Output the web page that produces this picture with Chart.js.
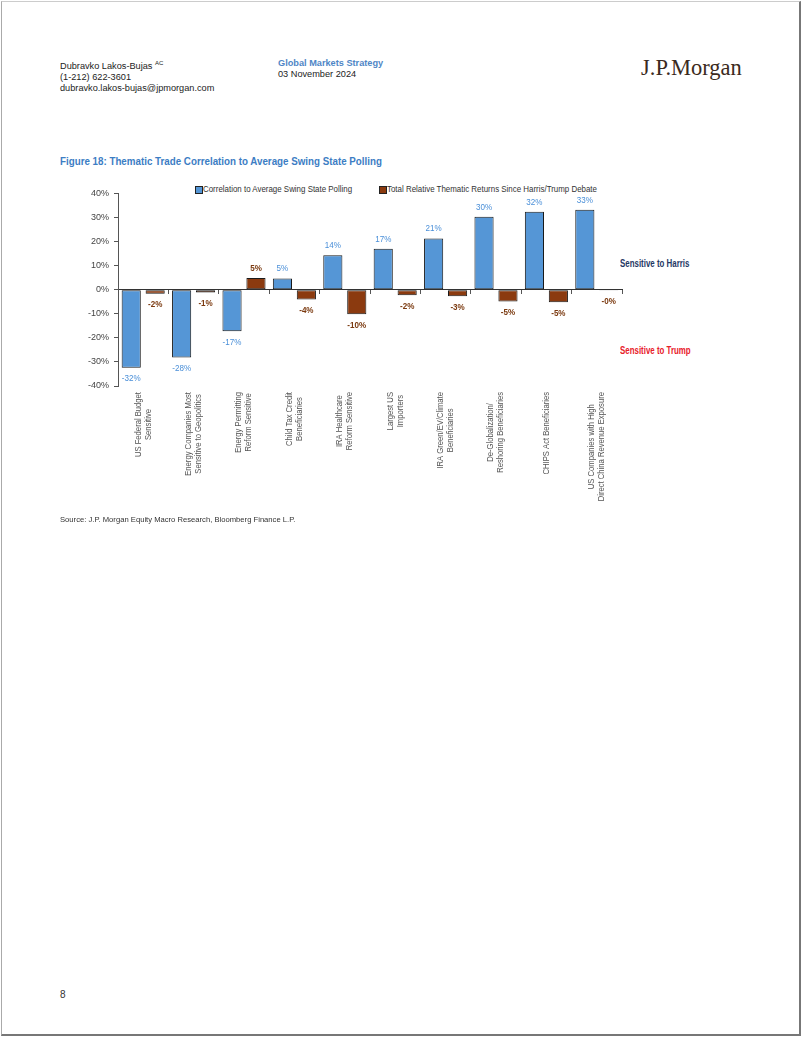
<!DOCTYPE html>
<html>
<head>
<meta charset="utf-8">
<script src="https://cdn.jsdelivr.net/npm/chart.js@4.4.1/dist/chart.umd.min.js"></script>
<style>
	body { margin: 0; background: #fff; font-family: "Liberation Sans", Arial, sans-serif; }
	#page { position: absolute; left: 1px; top: 1px; width: 797px; height: 1032px; border-left: 1px solid #aaa; border-top: 1px solid #ccc; border-right: 2px solid #777; border-bottom: 2px solid #777; }
	.abs { position: absolute; white-space: nowrap; }
	.nar { display: inline-block; transform-origin: 0 0; }
	.hdr { font-size: 9.2px; line-height: 11px; color: #222; }
	.sq { position: absolute; width: 6px; height: 6px; border: 1px solid #222; }
</style>
</head>
<body>
<div id="page"></div>

<!-- header -->
<div class="abs hdr" style="left:60px; top:58px;">Dubravko Lakos-Bujas <sup style="font-size:6px; vertical-align:4px;">AC</sup><br>(1-212) 622-3601<br>dubravko.lakos-bujas@jpmorgan.com</div>
<div class="abs hdr" style="left:278px; top:58px;"><b style="color:#4f86c6;">Global Markets Strategy</b><br>03 November 2024</div>
<div class="abs" style="left:641px; top:55px; font-family:'Liberation Serif','DejaVu Serif',serif; font-size:22.5px; color:#3b2a20;">J.P.Morgan</div>

<!-- figure title -->
<div class="abs" style="left:60px; top:155px; font-size:11.5px; font-weight:bold; color:#3c7dc4;"><span class="nar" style="transform:scaleX(0.85);">Figure 18: Thematic Trade Correlation to Average Swing State Polling</span></div>

<!-- legend -->
<div class="sq" style="left:195px; top:186px; background:#5596d6;"></div>
<div class="abs" style="left:203px; top:184px; font-size:9px; color:#333;"><span class="nar" style="transform:scaleX(0.88);">Correlation to Average Swing State Polling</span></div>
<div class="sq" style="left:379px; top:186px; background:#8b3a0f;"></div>
<div class="abs" style="left:387px; top:184px; font-size:9px; color:#333;"><span class="nar" style="transform:scaleX(0.88);">Total Relative Thematic Returns Since Harris/Trump Debate</span></div>

<!-- side notes -->
<div class="abs" style="left:620px; top:258px; font-size:10px; font-weight:bold; color:#1f3864;"><span class="nar" style="transform:scaleX(0.79);">Sensitive to Harris</span></div>
<div class="abs" style="left:620px; top:345px; font-size:10px; font-weight:bold; color:#e8202a;"><span class="nar" style="transform:scaleX(0.79);">Sensitive to Trump</span></div>

<div class="abs" style="left:80px; top:183px; width:550px; height:340px;">
	<canvas id="chBar" width="550" height="340"></canvas>
</div>

<div class="abs" style="left:60px; top:515px; font-size:7.65px; color:#333;">Source: J.P. Morgan Equity Macro Research, Bloomberg Finance L.P.</div>
<div class="abs" style="left:60px; top:989px; font-size:10px; color:#333;">8</div>

<script>
// chart data
var categories = [
	['US Federal Budget', 'Sensitive'],
	['Energy Companies Most', 'Sensitive to Geopolitics'],
	['Energy Permitting', 'Reform Sensitive'],
	['Child Tax Credit', 'Beneficiaries'],
	['IRA Healthcare', 'Reform Sensitive'],
	['Largest US', 'Importers'],
	['IRA Green/EV/Climate', 'Beneficiaries'],
	['De-Globalization/', 'Reshoring Beneficiaries'],
	['CHIPS Act Beneficiaries'],
	['US Companies with High', 'Direct China Revenue Exposure']
];
var correlation = [-32.4, -28.2, -17.3, 4.7, 14.3, 17.0, 21.3, 30.3, 32.4, 33.2];
var relReturns = [-1.7, -1.2, 4.9, -4.1, -10.2, -2.3, -2.7, -4.9, -5.2, -0.3];
var seriesNames = ['Correlation to Average Swing State Polling', 'Total Relative Thematic Returns Since Harris/Trump Debate'];
var yTicks = [-40, -30, -20, -10, 0, 10, 20, 30, 40];

var baseFont = '"Liberation Sans", Arial, sans-serif';
var squeeze = 0.85; // the original uses a condensed face, fake it by scaling

function pct(v) {
	return (v < 0 ? '-' : '') + Math.round(Math.abs(v)) + '%';
}

// draw text squeezed horizontally (in the current text direction)
function narrowText(ctx, t, x, y) {
	ctx.save();
	ctx.translate(x, y);
	ctx.scale(squeeze, 1);
	ctx.fillText(t, 0, 0);
	ctx.restore();
}

// value labels above / below each bar
var barLabels = {
	id: 'barLabels',
	afterDatasetsDraw: function (chart) {
		var ctx = chart.ctx;
		chart.data.datasets.forEach(function (ds, di) {
			var meta = chart.getDatasetMeta(di);
			ctx.save();
			ctx.font = (di === 1 ? 'bold ' : '') + '9.5px ' + baseFont;
			ctx.fillStyle = di === 0 ? '#4a8fd8' : '#7b3a10';
			ctx.textAlign = 'center';
			meta.data.forEach(function (el, i) {
				var v = ds.data[i];
				if (v >= 0) {
					ctx.textBaseline = 'bottom';
					narrowText(ctx, pct(v), el.x, el.y - 5);
				} else {
					ctx.textBaseline = 'top';
					narrowText(ctx, pct(v), el.x, el.y + 6);
				}
			});
			ctx.restore();
		});
	}
};

// rotated category names under the plot, lines centred on each other
var catLabels = {
	id: 'catLabels',
	afterDraw: function (chart) {
		var ctx = chart.ctx;
		var xs = chart.scales.x;
		var top = chart.chartArea.bottom + 6;
		ctx.save();
		ctx.font = '9px ' + baseFont;
		ctx.fillStyle = '#555';
		ctx.textAlign = 'center';
		ctx.textBaseline = 'middle';
		categories.forEach(function (lines, i) {
			var w = 0;
			lines.forEach(function (t) { w = Math.max(w, ctx.measureText(t).width * squeeze); });
			ctx.save();
			ctx.translate(xs.getPixelForValue(i), top);
			ctx.rotate(-Math.PI / 2);
			lines.forEach(function (t, k) {
				narrowText(ctx, t, -w / 2, (k - (lines.length - 1) / 2) * 10);
			});
			ctx.restore();
		});
		ctx.restore();
	}
};

new Chart(document.getElementById('chBar'), {
	type: 'bar',
	data: {
		labels: categories,
		datasets: [
			{
				label: seriesNames[0],
				data: correlation,
				backgroundColor: '#5596d6',
				borderColor: '#1a1a1a',
				borderWidth: 1,
				borderSkipped: false
			},
			{
				label: seriesNames[1],
				data: relReturns,
				backgroundColor: '#8b3a0f',
				borderColor: '#1a1a1a',
				borderWidth: 1,
				borderSkipped: false
			}
		]
	},
	options: {
		responsive: false,
		animation: false,
		devicePixelRatio: 1,
		categoryPercentage: 0.95,
		barPercentage: 0.8,
		layout: { padding: { top: 10, right: 8, bottom: 137, left: 8 } },
		plugins: {
			legend: { display: false },
			tooltip: { enabled: false }
		},
		scales: {
			x: {
				position: { y: 0 },
				grid: { display: true, drawOnChartArea: false, drawTicks: true, tickLength: 4, color: '#555' },
				border: { display: true, color: '#333', width: 1 },
				ticks: { display: false }
			},
			y: {
				min: -40,
				max: 40,
				afterBuildTicks: function (scale) {
					scale.ticks = yTicks.map(function (v) { return { value: v }; });
				},
				afterFit: function (scale) { scale.width = 30; },
				grid: { display: true, drawOnChartArea: false, drawTicks: true, tickLength: 4, color: '#555' },
				border: { display: true, color: '#555', width: 1 },
				ticks: {
					padding: 5,
					color: '#444',
					font: { family: baseFont, size: 9 },
					callback: function (v) { return v + '%'; }
				}
			}
		}
	},
	plugins: [barLabels, catLabels]
});
</script>
</body>
</html>
